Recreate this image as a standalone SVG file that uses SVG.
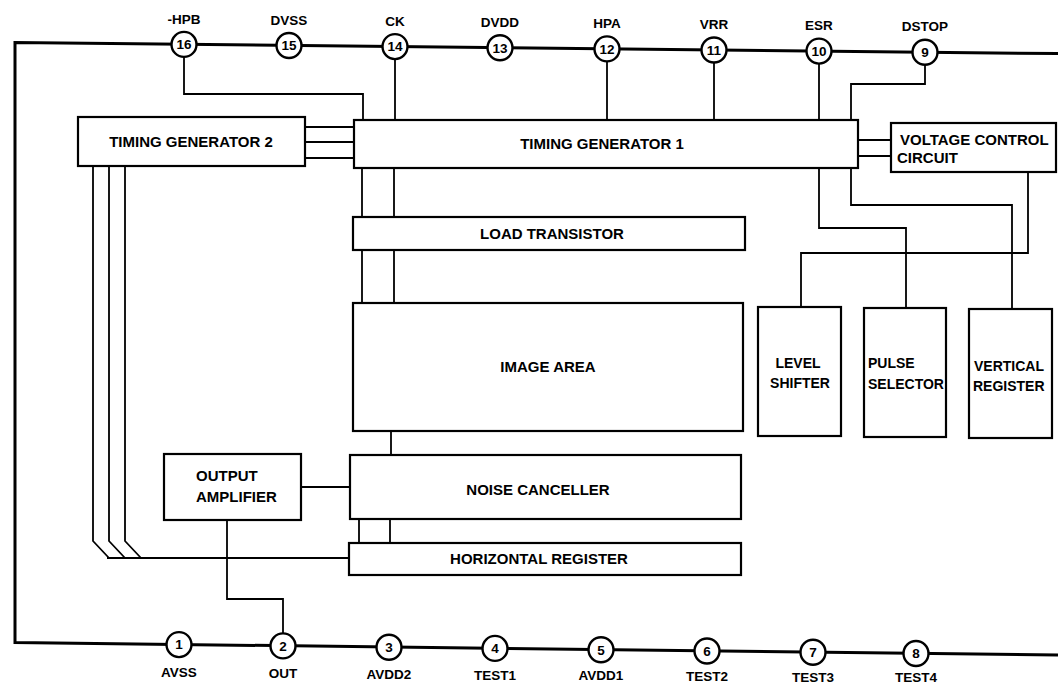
<svg xmlns="http://www.w3.org/2000/svg" width="1058" height="685" viewBox="0 0 1058 685">
<style>
  .box{fill:#fff;stroke:#000;stroke-width:2.2}
  .wire{fill:none;stroke:#000;stroke-width:1.8}
  .bus{fill:none;stroke:#000;stroke-width:3}
  .pin circle{fill:#fff;stroke:#000;stroke-width:2.4}
  text{font-family:"Liberation Sans",Arial,sans-serif;font-weight:bold;fill:#000}
  .lbl{font-size:15px}
  .sm{font-size:14px}
  .pl{font-size:13.5px;text-anchor:middle}
  .pn{font-size:13.5px;text-anchor:middle}
  .c{text-anchor:middle}
</style>
<rect width="1058" height="685" fill="#fff"/>
<g id="connectors">
  <polyline class="bus" points="1058,53.6 15,42.5 15,642.5 1058,655"/>
  <polyline class="wire" points="184,50 184,94 363,94 363,120"/>
  <line class="wire" x1="395" y1="52" x2="395" y2="120"/>
  <line class="wire" x1="607" y1="55" x2="607" y2="121"/>
  <line class="wire" x1="714" y1="56" x2="714" y2="121"/>
  <line class="wire" x1="819" y1="57" x2="819" y2="122"/>
  <polyline class="wire" points="925,58 925,84 851,84 851,122"/>
  <line class="wire" x1="305" y1="127" x2="354" y2="127"/>
  <line class="wire" x1="305" y1="142" x2="354" y2="142"/>
  <line class="wire" x1="305" y1="158" x2="354" y2="158"/>
  <line class="wire" x1="858" y1="140" x2="891" y2="140"/>
  <line class="wire" x1="858" y1="156" x2="891" y2="156"/>
  <line class="wire" x1="362" y1="168" x2="362" y2="303"/>
  <line class="wire" x1="394" y1="168" x2="394" y2="303"/>
  <line class="wire" x1="391" y1="431" x2="391" y2="455"/>
  <line class="wire" x1="359" y1="519" x2="359" y2="543"/>
  <line class="wire" x1="390" y1="519" x2="390" y2="543"/>
  <line class="wire" x1="301" y1="487" x2="350" y2="487"/>
  <polyline class="wire" points="227,520 227,599 283,599 283,634"/>
  <polyline class="wire" points="93,166 93,541 109,558"/>
  <polyline class="wire" points="109,166 109,541 125,558"/>
  <polyline class="wire" points="125,166 125,541 141,558"/>
  <line class="wire" x1="107" y1="558" x2="349" y2="558"/>
  <polyline class="wire" points="819,169 819,228 906,228 906,308"/>
  <polyline class="wire" points="851,169 851,205 1012,205 1012,309"/>
  <polyline class="wire" points="1028,172 1028,253 801,253 801,307"/>
</g>
<g id="pins">
  <g class="pin" id="pin16"><circle cx="184" cy="44.4" r="12.5"/><text class="pn" x="184" y="49.2">16</text><text class="pl" x="184" y="24">-HPB</text></g>
  <g class="pin" id="pin15"><circle cx="289" cy="45.5" r="12.5"/><text class="pn" x="289" y="50.3">15</text><text class="pl" x="289" y="25">DVSS</text></g>
  <g class="pin" id="pin14"><circle cx="395" cy="46.6" r="12.5"/><text class="pn" x="395" y="51.4">14</text><text class="pl" x="395" y="26">CK</text></g>
  <g class="pin" id="pin13"><circle cx="500" cy="47.8" r="12.5"/><text class="pn" x="500" y="52.6">13</text><text class="pl" x="500" y="27">DVDD</text></g>
  <g class="pin" id="pin12"><circle cx="607" cy="48.9" r="12.5"/><text class="pn" x="607" y="53.7">12</text><text class="pl" x="607" y="28">HPA</text></g>
  <g class="pin" id="pin11"><circle cx="714" cy="50" r="12.5"/><text class="pn" x="714" y="54.8">11</text><text class="pl" x="714" y="29">VRR</text></g>
  <g class="pin" id="pin10"><circle cx="819" cy="51.1" r="12.5"/><text class="pn" x="819" y="55.9">10</text><text class="pl" x="819" y="30">ESR</text></g>
  <g class="pin" id="pin9"><circle cx="925" cy="52.2" r="12.5"/><text class="pn" x="925" y="57">9</text><text class="pl" x="925" y="31">DSTOP</text></g>
  <g class="pin" id="pin1"><circle cx="179" cy="644.6" r="12.5"/><text class="pn" x="179" y="649.4">1</text><text class="pl" x="179" y="677">AVSS</text></g>
  <g class="pin" id="pin2"><circle cx="283" cy="645.9" r="12.5"/><text class="pn" x="283" y="650.7">2</text><text class="pl" x="283" y="678">OUT</text></g>
  <g class="pin" id="pin3"><circle cx="389" cy="647.2" r="12.5"/><text class="pn" x="389" y="652">3</text><text class="pl" x="389" y="679">AVDD2</text></g>
  <g class="pin" id="pin4"><circle cx="495" cy="648.4" r="12.5"/><text class="pn" x="495" y="653.2">4</text><text class="pl" x="495" y="680">TEST1</text></g>
  <g class="pin" id="pin5"><circle cx="601" cy="649.7" r="12.5"/><text class="pn" x="601" y="654.5">5</text><text class="pl" x="601" y="680">AVDD1</text></g>
  <g class="pin" id="pin6"><circle cx="707" cy="651" r="12.5"/><text class="pn" x="707" y="655.8">6</text><text class="pl" x="707" y="681">TEST2</text></g>
  <g class="pin" id="pin7"><circle cx="813" cy="652.3" r="12.5"/><text class="pn" x="813" y="657.1">7</text><text class="pl" x="813" y="682">TEST3</text></g>
  <g class="pin" id="pin8"><circle cx="916" cy="653.5" r="12.5"/><text class="pn" x="916" y="658.3">8</text><text class="pl" x="916" y="682">TEST4</text></g>
</g>
<g id="tg2"><rect class="box" x="78" y="117" width="227" height="49"/><text class="lbl c" x="191" y="147">TIMING GENERATOR 2</text></g>
<g id="tg1"><rect class="box" x="354" y="120" width="504" height="48"/><text class="lbl c" x="602" y="149">TIMING GENERATOR 1</text></g>
<g id="vcc"><rect class="box" x="891" y="123" width="165" height="49"/><text class="lbl" x="900" y="145">VOLTAGE CONTROL</text><text class="lbl" x="897" y="163">CIRCUIT</text></g>
<g id="load"><rect class="box" x="353" y="217" width="392" height="33"/><text class="lbl c" x="552" y="239">LOAD TRANSISTOR</text></g>
<g id="image"><rect class="box" x="353" y="303" width="390" height="128"/><text class="lbl c" x="548" y="372">IMAGE AREA</text></g>
<g id="noise"><rect class="box" x="350" y="455" width="391" height="64"/><text class="lbl c" x="538" y="495">NOISE CANCELLER</text></g>
<g id="hreg"><rect class="box" x="349" y="543" width="392" height="32"/><text class="lbl c" x="539" y="564">HORIZONTAL REGISTER</text></g>
<g id="outamp"><rect class="box" x="164" y="454" width="137" height="66"/><text class="lbl" x="196" y="481">OUTPUT</text><text class="lbl" x="196" y="502">AMPLIFIER</text></g>
<g id="level"><rect class="box" x="758" y="307" width="83" height="129"/><text class="sm c" x="798" y="368">LEVEL</text><text class="sm c" x="800" y="388">SHIFTER</text></g>
<g id="pulse"><rect class="box" x="864" y="308" width="82" height="129"/><text class="sm" x="868" y="368">PULSE</text><text class="sm" x="868" y="389">SELECTOR</text></g>
<g id="vreg"><rect class="box" x="969" y="309" width="83" height="129"/><text class="sm" x="974" y="371">VERTICAL</text><text class="sm" x="973" y="391">REGISTER</text></g>
</svg>
